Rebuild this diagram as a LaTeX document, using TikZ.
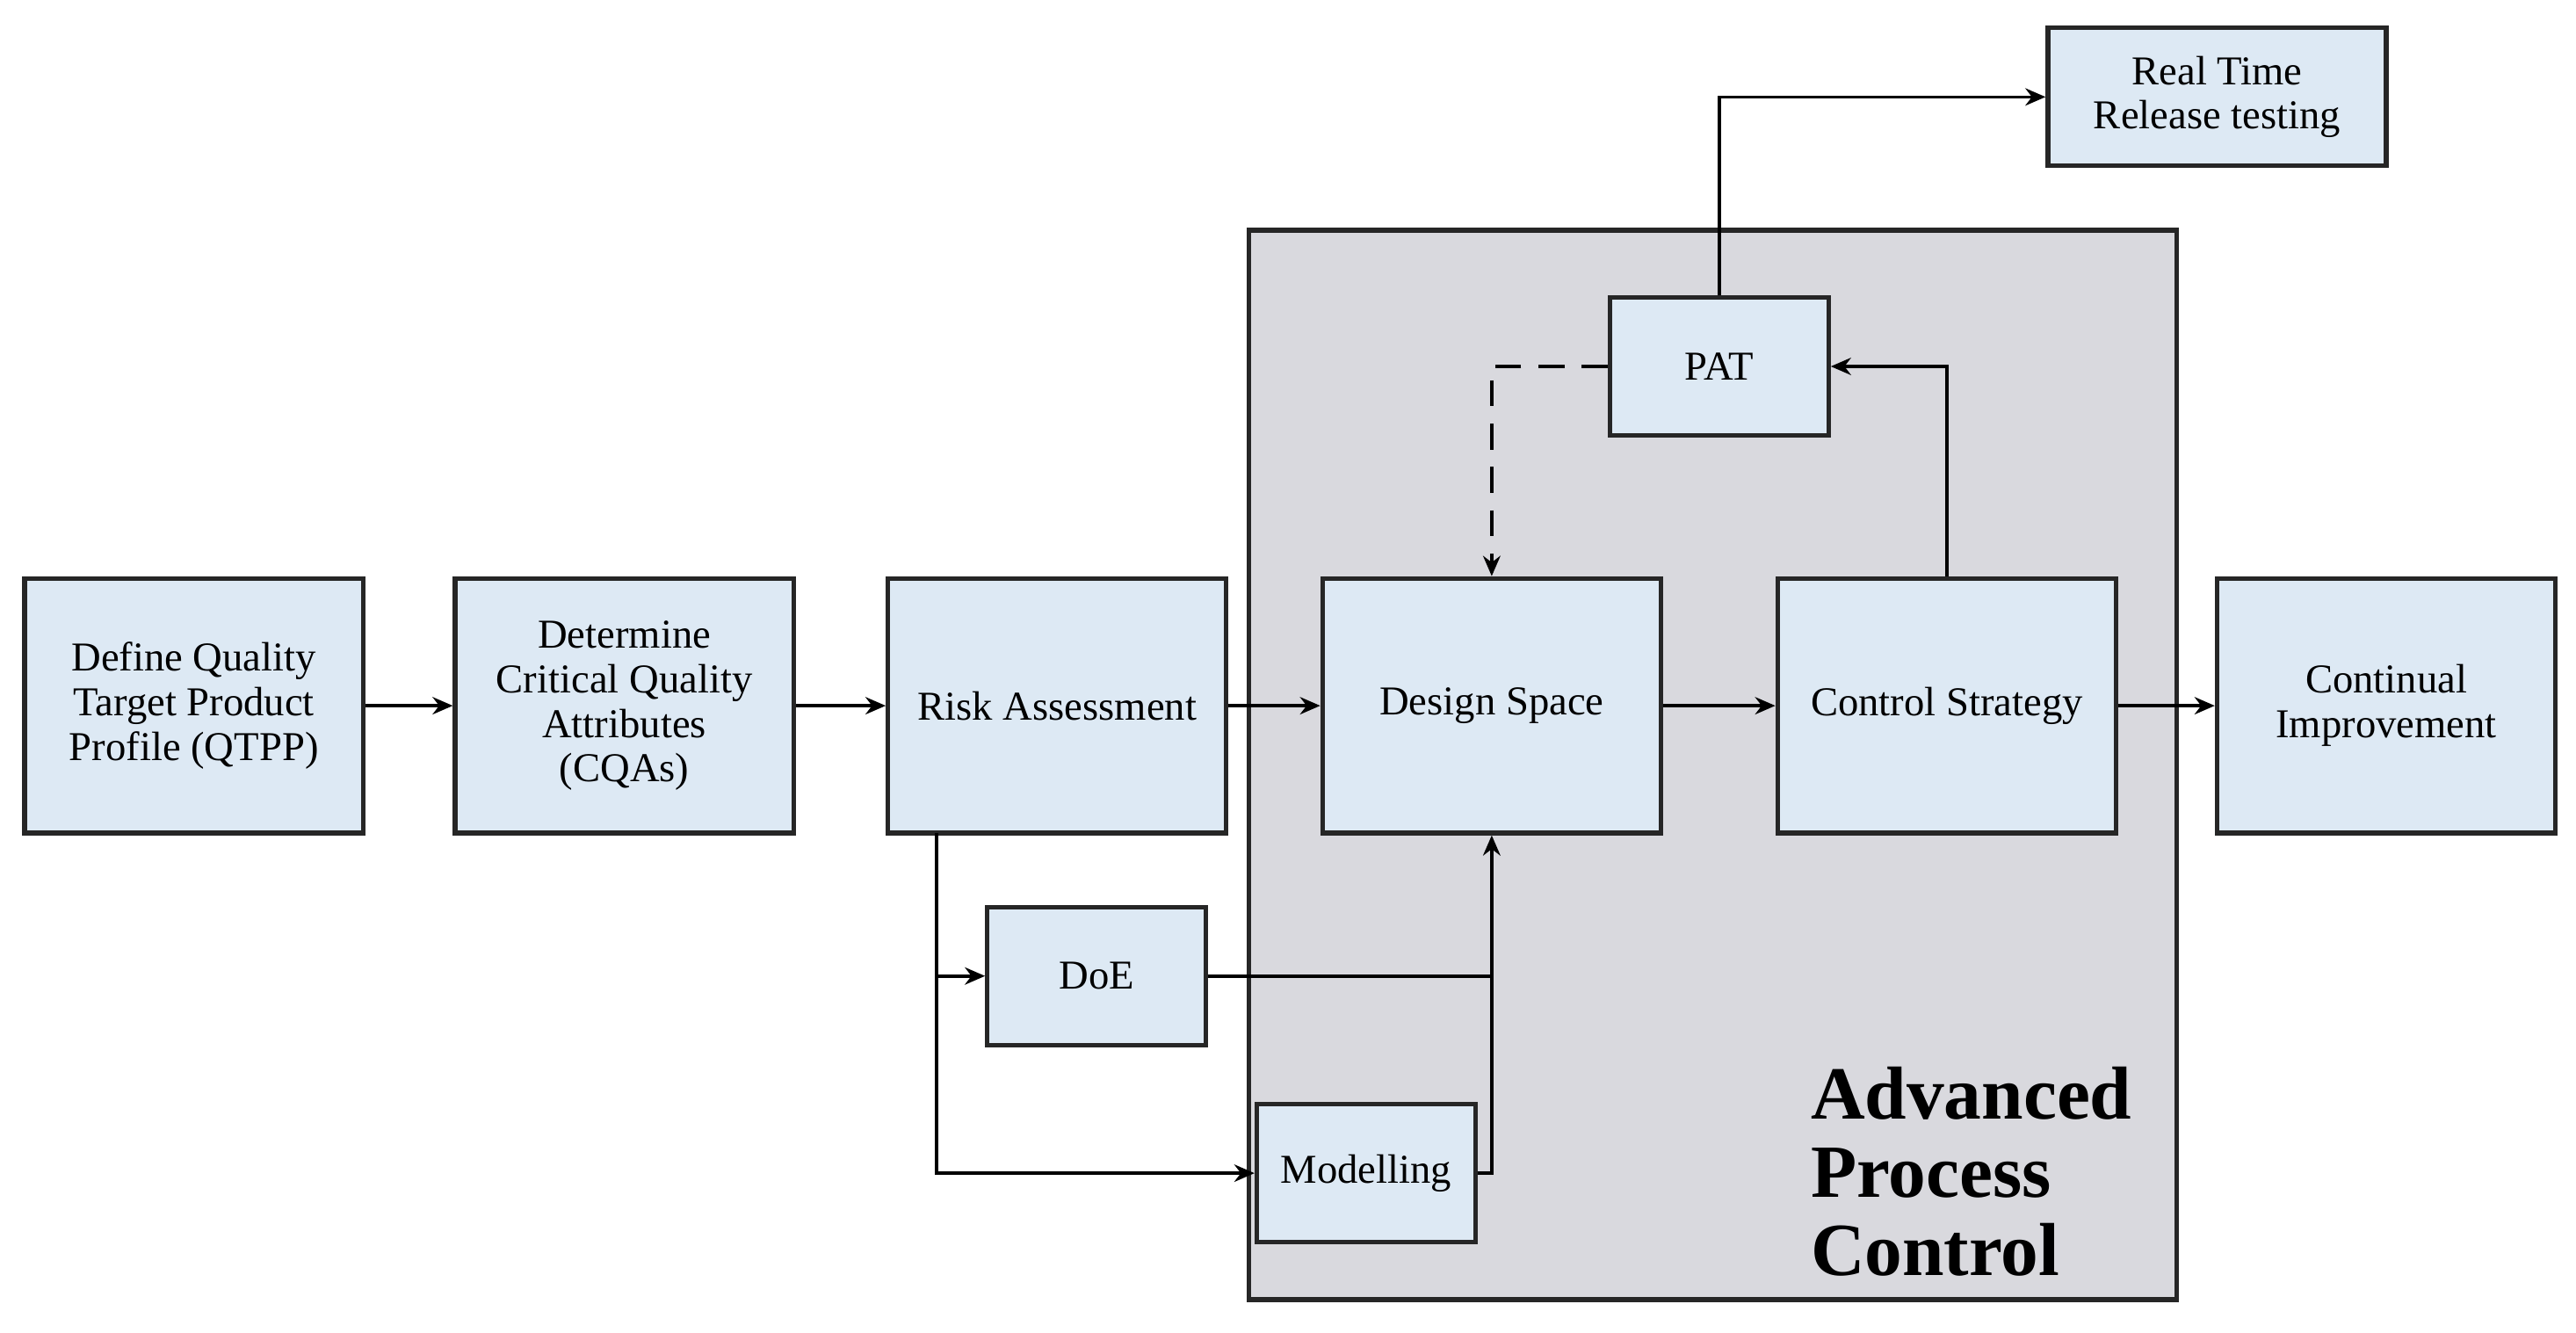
\documentclass[tikz,border=0pt]{standalone}
\usepackage{fontspec}
\setmainfont{Liberation Serif}
\usetikzlibrary{arrows.meta}
\definecolor{bx}{HTML}{DDE9F4}
\definecolor{gr}{HTML}{D9D9DE}
\begin{document}
\begin{tikzpicture}[x=0.02cm,y=-0.02cm,
 box/.style={draw=black!85,line width=1.6pt,fill=bx,align=center,inner sep=1pt,font=\fontsize{14.2}{15.5}\selectfont},
 big/.style={box,minimum width=4.12cm,minimum height=3.1cm},
 sm/.style={box,minimum width=2.66cm,minimum height=1.68cm},
 ar/.style={line width=1.1pt,-{Stealth[length=7pt,width=6pt]}},
 ln/.style={line width=1.1pt}]
\useasboundingbox (0,0) rectangle (1568,811);
\node[draw=black!85,line width=1.6pt,fill=gr,minimum width=11.3cm,minimum height=13.02cm,inner sep=0] (apc) at (1042.5,465.5) {};
\node[big] (q) at (118,429.5) {Define Quality\\Target Product\\Profile (QTPP)};
\node[big] (c) at (380,429.5) {Determine\\Critical Quality\\Attributes\\(CQAs)};
\node[big] (r) at (643.5,429.5) {Risk Assessment};
\node[big] (d) at (908,429.5) {Design Space};
\node[big] (s) at (1185,429.5) {Control Strategy};
\node[big] (i) at (1452.5,429.5) {Continual\\Improvement};
\node[sm] (p) at (1046.5,223) {PAT};
\node[big,minimum height=1.68cm] (t) at (1349.5,59) {Real Time\\Release testing};
\node[sm] (e) at (667.5,594) {DoE};
\node[sm] (m) at (831.5,714) {Modelling};
\node[align=left,anchor=west,font=\bfseries\fontsize{26}{27}\selectfont] (lab) at (1096,713) {Advanced\\Process\\Control};
\draw[ar] (q) -- (c);
\draw[ar] (c) -- (r);
\draw[ar] (r) -- (d);
\draw[ar] (d) -- (s);
\draw[ar] (s) -- (i);
\coordinate (rb) at (570,507);
\draw[ar] (rb) |- (m.west);
\coordinate (rd) at (570,594);
\draw[ar] (rd) -- (e.west);
\coordinate (j) at (908,594);
\draw[ln] (e.east) -- (j);
\draw[ar] (m.east) -| (d.south);
\draw[ar] (s.north) |- (p.east);
\draw[ar] (p.north) |- (t.west);
\draw[ar,dash pattern=on 9pt off 6pt] (p.west) -| (d.north);
\end{tikzpicture}
\end{document}
